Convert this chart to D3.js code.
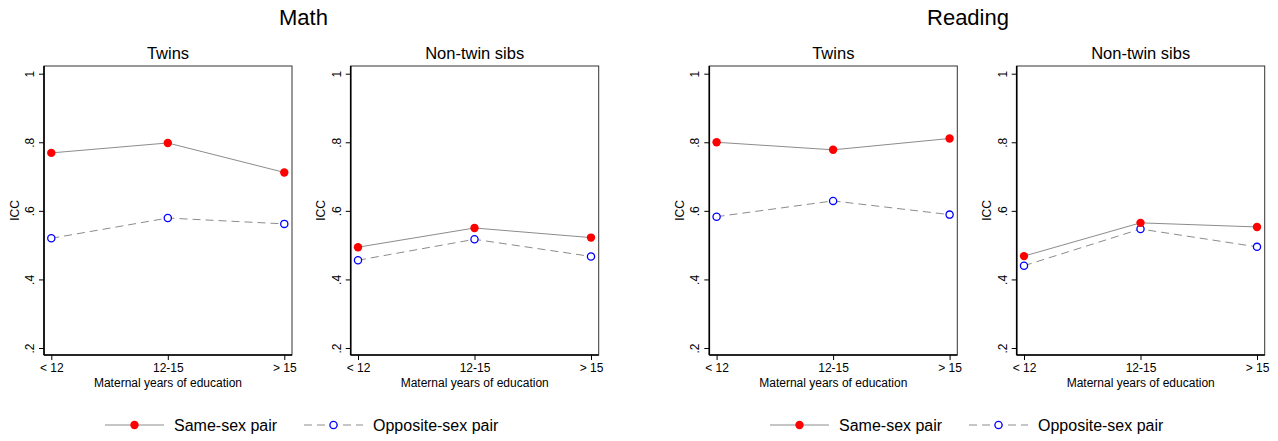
<!DOCTYPE html>
<html>
<head>
<meta charset="utf-8">
<script src="https://cdn.jsdelivr.net/npm/d3@7"></script>
<style>
  body { margin: 0; background: #fff; }
  text { font-family: "Liberation Sans", Arial, sans-serif; fill: #000; }
</style>
</head>
<body>
<div id="chart-container"></div>
<script>
// Data.
const categories = ["< 12", "12-15", "> 15"];
const yTicks = [0.2, 0.4, 0.6, 0.8, 1];
const yTickLabels = [".2", ".4", ".6", ".8", "1"];

const mathTwinsSame = [0.769, 0.798, 0.712];
const mathTwinsOpp  = [0.520, 0.579, 0.562];
const mathSibsSame  = [0.494, 0.550, 0.522];
const mathSibsOpp   = [0.456, 0.517, 0.467];
const readTwinsSame = [0.800, 0.778, 0.811];
const readTwinsOpp  = [0.583, 0.629, 0.589];
const readSibsSame  = [0.468, 0.565, 0.553];
const readSibsOpp   = [0.440, 0.547, 0.495];

const groupTitles = ["Math", "Reading"];
const panelTitles = ["Twins", "Non-twin sibs"];
const seriesNames = ["Same-sex pair", "Opposite-sex pair"];

const chartWidth = 1278;
const chartHeight = 441;

const panelLefts = [44, 350.7, 709.3, 1016.7];
const panelWidth = 248;
const panelTop = 66;
const panelBottom = 355;

// Horizontal centre of each group title (centred over the whole half graph).
const groupCenters = [303.5, 968];

const panels = [
    {group: 0, title: panelTitles[0], same: mathTwinsSame, opp: mathTwinsOpp},
    {group: 0, title: panelTitles[1], same: mathSibsSame, opp: mathSibsOpp},
    {group: 1, title: panelTitles[0], same: readTwinsSame, opp: readTwinsOpp},
    {group: 1, title: panelTitles[1], same: readSibsSame, opp: readSibsOpp}
];

const y = d3.scaleLinear()
    .domain([0.2, 1])
    .range([348, 73.7]);

const lineGray = "#8c8c8c";

const chart = d3.select("#chart-container").append("svg")
    .attr("width", chartWidth)
    .attr("height", chartHeight);

panels.forEach((p, i) => {
    const left = panelLefts[i];
    const right = left + panelWidth;
    const x = d3.scalePoint()
        .domain(categories)
        .range([left + 7.3, right - 7.7]);

    const g = chart.append("g").attr("class", "panel");

    // plot region border
    g.append("rect")
        .attr("x", left)
        .attr("y", panelTop)
        .attr("width", panelWidth)
        .attr("height", panelBottom - panelTop)
        .attr("fill", "none")
        .attr("stroke", "#333")
        .attr("stroke-width", 1);

    g.append("text")
        .attr("x", (left + right) / 2)
        .attr("y", 59)
        .attr("text-anchor", "middle")
        .style("font-size", "16.5px")
        .text(p.title);

    // y-axis
    const yAxis = g.append("g")
        .attr("transform", `translate(${left}, 0)`)
        .call(d3.axisLeft(y).tickValues(yTicks).tickSize(5)
            .tickFormat((d, k) => yTickLabels[k]));
    yAxis.select(".domain")
        .attr("d", `M0,${panelTop}V${panelBottom}`)
        .attr("stroke", "#000")
        .attr("stroke-width", 1.6);
    yAxis.selectAll(".tick line").attr("stroke", "#000");
    yAxis.selectAll(".tick text")
        .attr("x", null)
        .attr("dy", null)
        .attr("text-anchor", "middle")
        .attr("transform", "translate(-10, 0) rotate(-90)")
        .style("font-size", "12px")
        .style("font-family", "Liberation Sans, Arial, sans-serif")
        .attr("fill", "#000");

    g.append("text")
        .attr("transform", `translate(${left - 25.5}, ${(panelTop + panelBottom) / 2}) rotate(-90)`)
        .attr("text-anchor", "middle")
        .style("font-size", "12px")
        .text("ICC");

    // x-axis
    const xAxis = g.append("g")
        .attr("transform", `translate(0, ${panelBottom})`)
        .call(d3.axisBottom(x).tickSize(5).tickPadding(3));
    xAxis.select(".domain")
        .attr("d", `M${left},0H${right}`)
        .attr("stroke", "#000")
        .attr("stroke-width", 1.6);
    xAxis.selectAll(".tick line").attr("stroke", "#000");
    xAxis.selectAll(".tick text")
        .style("font-size", "12px")
        .style("font-family", "Liberation Sans, Arial, sans-serif")
        .attr("fill", "#000");

    g.append("text")
        .attr("x", (left + right) / 2)
        .attr("y", 387)
        .attr("text-anchor", "middle")
        .style("font-size", "12px")
        .text("Maternal years of education");

    const line = d3.line()
        .x((d, k) => x(categories[k]))
        .y(d => y(d));

    g.append("path")
        .datum(p.opp)
        .attr("d", line)
        .attr("fill", "none")
        .attr("stroke", lineGray)
        .attr("stroke-width", 1)
        .attr("stroke-dasharray", "8,5");

    g.append("path")
        .datum(p.same)
        .attr("d", line)
        .attr("fill", "none")
        .attr("stroke", lineGray)
        .attr("stroke-width", 1);

    g.selectAll(".opp")
        .data(p.opp)
        .enter()
        .append("circle")
        .attr("class", "opp")
        .attr("cx", (d, k) => x(categories[k]))
        .attr("cy", d => y(d))
        .attr("r", 3.6)
        .attr("fill", "#fff")
        .attr("stroke", "#0000ff")
        .attr("stroke-width", 1.3);

    g.selectAll(".same")
        .data(p.same)
        .enter()
        .append("circle")
        .attr("class", "same")
        .attr("cx", (d, k) => x(categories[k]))
        .attr("cy", d => y(d))
        .attr("r", 4.2)
        .attr("fill", "#ff0000");
});

// group titles and legends
groupTitles.forEach((t, gi) => {
    chart.append("text")
        .attr("x", groupCenters[gi])
        .attr("y", 24.5)
        .attr("text-anchor", "middle")
        .style("font-size", "22px")
        .text(t);

    const legendY = 425;
    const startX = gi === 0 ? 105 : 770;
    const items = [
        {x: startX, dash: null},
        {x: startX + 199, dash: "8,5"}
    ];
    items.forEach((it, k) => {
        const lg = chart.append("g").attr("class", "legend");
        lg.append("line")
            .attr("x1", it.x).attr("x2", it.x + 59)
            .attr("y1", legendY).attr("y2", legendY)
            .attr("stroke", lineGray)
            .attr("stroke-width", 1)
            .attr("stroke-dasharray", it.dash);
        if (k === 0) {
            lg.append("circle")
                .attr("cx", it.x + 29.5).attr("cy", legendY)
                .attr("r", 4.2).attr("fill", "#ff0000");
        } else {
            lg.append("circle")
                .attr("cx", it.x + 29.5).attr("cy", legendY)
                .attr("r", 3.6).attr("fill", "#fff")
                .attr("stroke", "#0000ff").attr("stroke-width", 1.3);
        }
        lg.append("text")
            .attr("x", it.x + 69)
            .attr("y", legendY + 5.8)
            .style("font-size", "16px")
            .text(seriesNames[k]);
    });
});
</script>
</body>
</html>
